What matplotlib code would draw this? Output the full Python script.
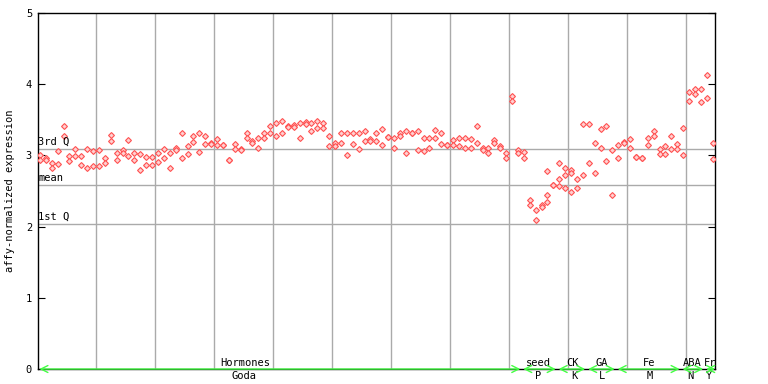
import numpy as np
import matplotlib
matplotlib.use("Agg")
import matplotlib.pyplot as plt

# expression values, two replicates per sample column
rep_a = [3.01, 2.97, 2.89, 3.06, 3.41, 2.99, 3.09, 2.99, 3.09, 3.06,
         3.07, 2.97, 3.29, 3.04, 3.07, 3.21, 3.03, 3.02, 2.98, 2.98,
         3.03, 3.09, 3.04, 3.10, 3.31, 3.13, 3.27, 3.31, 3.27, 3.18,
         3.23, 3.15, 2.93, 3.16, 3.09, 3.32, 3.20, 3.24, 3.31, 3.41,
         3.46, 3.48, 3.41, 3.43, 3.45, 3.47, 3.46, 3.49, 3.46, 3.27,
         3.17, 3.31, 3.32, 3.32, 3.32, 3.35, 3.23, 3.31, 3.37, 3.26,
         3.25, 3.32, 3.34, 3.31, 3.34, 3.25, 3.25, 3.36, 3.31, 3.15,
         3.21, 3.25, 3.24, 3.23, 3.41, 3.10, 3.10, 3.21, 3.13, 3.04,
         3.83, 3.08, 3.05, 2.38, 2.23, 2.31, 2.78, 2.58, 2.89, 2.82,
         2.80, 2.67, 3.44, 3.44, 3.17, 3.37, 3.42, 3.07, 3.14, 3.19,
         3.23, 2.98, 2.96, 3.24, 3.34, 3.09, 3.13, 3.27, 3.16, 3.38,
         3.89, 3.94, 3.94, 4.13, 3.18]
rep_b = [2.94, 2.94, 2.83, 2.88, 3.27, 2.92, 2.99, 2.87, 2.82, 2.85,
         2.85, 2.90, 3.20, 2.93, 3.04, 2.99, 2.93, 2.80, 2.87, 2.86,
         2.91, 2.97, 2.83, 3.07, 2.96, 3.02, 3.19, 3.05, 3.16, 3.16,
         3.14, 3.15, 2.93, 3.09, 3.08, 3.25, 3.17, 3.11, 3.25, 3.31,
         3.27, 3.32, 3.40, 3.40, 3.24, 3.44, 3.34, 3.38, 3.39, 3.13,
         3.13, 3.18, 3.01, 3.16, 3.09, 3.20, 3.20, 3.20, 3.14, 3.26,
         3.11, 3.28, 3.04, 3.31, 3.08, 3.06, 3.11, 3.25, 3.16, 3.15,
         3.14, 3.13, 3.11, 3.11, 3.17, 3.08, 3.04, 3.18, 3.10, 2.97,
         3.76, 3.04, 2.97, 2.30, 2.09, 2.28, 2.45, 2.58, 2.67, 2.72,
         2.76, 2.54, 2.72, 2.89, 2.76, 3.10, 2.92, 2.45, 2.97, 3.17,
         3.10, 2.98, 2.96, 3.14, 3.27, 3.02, 3.02, 3.09, 3.09, 3.00,
         3.77, 3.86, 3.75, 3.80, 2.95]
extra_x = [86, 88, 89, 90]
extra_y = [2.34, 2.57, 2.54, 2.48]

third_q = 3.09
mean_val = 2.58
first_q = 2.04

groups_top = ["Hormones", "seed", "CK", "GA", "Fe", "ABA", "Fr"]
groups_bot = ["Goda", "P", "K", "L", "M", "N", "Y"]
group_start = [0, 82, 88, 93, 98, 109, 113]
group_end = [81, 87, 92, 97, 108, 112, 114]

label_x = [34.8, 84.4, 90.2, 95.2, 103.2, 110.6, 113.6]
bot_x = [34.6, 84.4, 90.5, 95.3, 103.4, 110.3, 113.3]

mono = "DejaVu Sans Mono"
red = "#ff5050"

fig = plt.figure(figsize=(7.68, 3.84), dpi=100)
ax = fig.add_axes([0.049, 0.039, 0.882, 0.927])

cols = np.arange(len(rep_a))
for vals, xs in ((rep_a, cols), (rep_b, cols), (extra_y, extra_x)):
    ax.plot(xs, vals, linestyle="none", marker="D", markersize=3.0,
            markerfacecolor="#ffd0d0", markeredgecolor=red, markeredgewidth=0.8,
            zorder=3)

# grid
for gx in np.arange(9.55, 114, 10):
    ax.axvline(gx, color="#aaaaaa", lw=1, zorder=1)
for val, name in ((third_q, "3rd Q"), (mean_val, "mean"), (first_q, "1st Q")):
    ax.axhline(val, color="#aaaaaa", lw=1, zorder=1)
    ax.text(-0.3, val + 0.03, name, fontsize=7.5, family=mono, va="bottom", ha="left")

ax.set_xlim(-0.4, 114.4)
ax.set_ylim(0, 5)
ax.set_xticks([])
ax.set_yticks([0, 1, 2, 3, 4, 5])
ax.tick_params(axis="y", direction="in", length=5, right=True, labelsize=7.5, pad=4)
for lab in ax.get_yticklabels():
    lab.set_family(mono)
for sp in ax.spines.values():
    sp.set_color("black")
    sp.set_linewidth(1)
ax.set_ylabel("affy-normalized expression", fontsize=7.5, family=mono, labelpad=8)

# group arrows along the bottom
for s, e in zip(group_start, group_end):
    ax.annotate("", xy=(e + 0.4, 0.0), xytext=(s - 0.1, 0.0),
                arrowprops=dict(arrowstyle="<->,head_length=0.5,head_width=0.25",
                                color="#44ff44", lw=1.0,
                                mutation_scale=10, shrinkA=0, shrinkB=0),
                annotation_clip=False, zorder=4)
for x, t in zip(label_x, groups_top):
    ax.text(x, 0.02, t, fontsize=7.5, family=mono, ha="center", va="bottom")
for x, t in zip(bot_x, groups_bot):
    ax.text(x, -0.03, t, fontsize=7.5, family=mono, ha="center", va="top")

fig.savefig("out.png", dpi=100)
